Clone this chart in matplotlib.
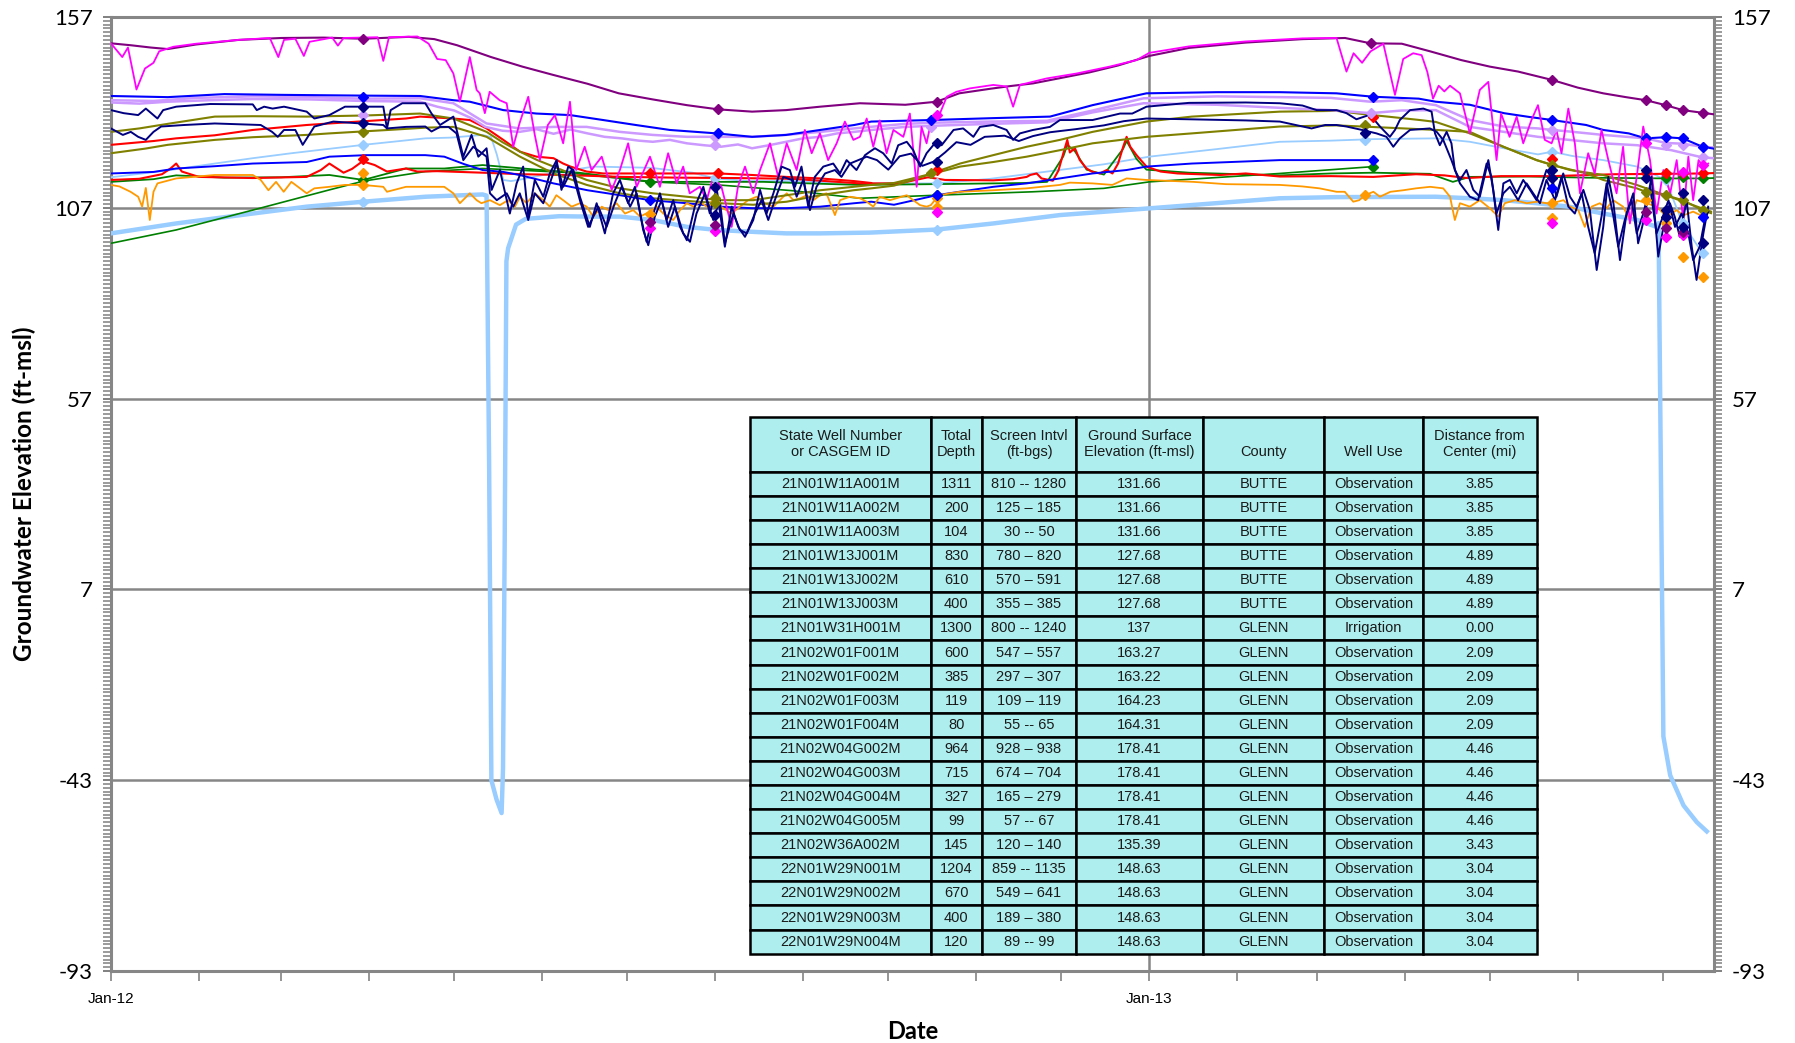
import numpy as np
import matplotlib
matplotlib.use("Agg")
import matplotlib.pyplot as plt
import matplotlib.dates as mdates
from matplotlib.ticker import FixedLocator, MultipleLocator
from matplotlib import font_manager

plt.rcParams["axes.unicode_minus"] = False

# ---- hydrograph data: (days since 1 Jan 2012, elevation ft-msl) ----
purple = [(0, 150.1), (7, 149.6), (14, 149.0), (20, 148.6), (30, 149.8), (45, 151.0), (60, 151.5),
          (75, 151.6), (89, 151.3), (105, 151.8), (114, 151.2), (122, 149.6), (134, 146.5), (145, 144.0),
          (156, 141.8), (168, 139.5), (179, 137.0), (191, 135.4), (203, 133.9), (214, 132.8), (226, 132.2),
          (238, 132.6), (250, 133.5), (264, 134.4), (280, 134.0), (291, 134.8), (299, 137.0), (310, 138.2),
          (317, 138.9), (325, 139.6), (334, 140.9), (345, 142.5), (355, 144.3), (366, 146.8), (380, 148.9),
          (400, 150.3), (420, 151.2), (435, 151.5), (444, 150.1), (455, 150.0), (465, 148.0), (476, 145.7),
          (486, 144.0), (496, 142.7), (508, 140.5), (517, 138.5), (526, 137.0), (534, 136.0), (541, 135.2),
          (548, 133.9), (554, 132.6), (561, 131.9), (565, 131.5)]

magenta = [(0, 150.1), (4, 146.5), (6, 149), (9, 138.0), (12, 143.5), (15, 145), (17, 148), (22, 149.2),
           (30, 150), (45, 151), (56, 151.5), (59, 146.5), (61, 151), (65, 151.3), (68, 146.8), (70, 150.5),
           (78, 151.6), (80, 149.5), (82, 151.5), (94, 151.7), (96, 145.5), (98, 151.7), (108, 151.9),
           (112, 150), (115, 146), (118, 145.7), (120.7, 142.2), (123, 134.8), (126.5, 146.5), (128.9, 137.9),
           (130, 137), (131.8, 131.8), (133.5, 137.4), (137, 135.2), (139.5, 134.4), (141.8, 123),
           (144, 129.1), (147.1, 136.1), (149.4, 126.1), (151.2, 119.5), (154, 128.7), (156.5, 131.3),
           (159.4, 123.9), (161.8, 134.8), (164, 116.9), (167, 123), (169.4, 116.9), (173, 120.4),
           (176.5, 111.7), (179.4, 116.9), (182.3, 123.9), (185.3, 112.5), (190, 120.4), (193.5, 112.5),
           (196.4, 121.3), (199.4, 113.4), (201.7, 117.8), (204, 110.8), (207.6, 112.5), (210, 109),
           (212.3, 115.1), (215.2, 112.5), (218.8, 102), (221, 112.5), (223.5, 117.8), (226.4, 110.8),
           (228.8, 116.9), (232.3, 123.9), (235.2, 115.1), (238.2, 123.9), (241.7, 116.9), (244.6, 127.4),
           (247, 121.3), (249.9, 126.5), (252.8, 119.5), (255.8, 123.9), (258.7, 129.6), (261.7, 124.8),
           (264, 125.6), (266.4, 130.4), (268.7, 123), (271, 129.9), (273.4, 121.3), (275.8, 127.4),
           (279.3, 125.6), (281.6, 131.7), (284, 112.5), (285.7, 128.2), (287.5, 123.9), (289.3, 130.4),
           (292.2, 131.7), (294.6, 136.1), (298, 137.4), (302.8, 138.3), (311, 139.2), (315.7, 138.8),
           (318, 133.5), (320.4, 139.2), (329.8, 140.9), (340.4, 142.2), (352, 144), (361.5, 145.7),
           (366, 147.6), (380, 149.3), (400, 150.6), (420, 151.4), (432, 151.5), (435.5, 142.7),
           (438, 147.5), (441, 145), (444, 148), (448.5, 150), (452.6, 136.6), (455.5, 146), (459, 147.5),
           (462, 147), (464, 142.6), (466, 135.6), (468, 139), (470, 137.5), (472, 139), (475.5, 137),
           (479, 126.5), (482.5, 137.9), (485.5, 140), (488.4, 119.5), (490, 131.7), (493, 125.6),
           (495.5, 130.9), (497.8, 123.9), (500.7, 130), (503, 133.9), (505.4, 124.8), (507.8, 123.9),
           (509.5, 127.4), (511.3, 121.3), (513.7, 133), (516, 123.9), (517.8, 110.8), (520.7, 121.3),
           (523, 116), (525.4, 127.4), (527.8, 119.5), (530.7, 110.8), (533, 123), (535.4, 102.9),
           (537.8, 115.1), (540.1, 128.3), (542.5, 119.5), (544.8, 105.5), (547.2, 116.9), (549.6, 110.8),
           (551.9, 119.5), (554.2, 103.8), (556, 120.4), (557.7, 109), (559.6, 119.5), (561.3, 117.8),
           (563, 118.6)]

lavender_1 = [(0, 135.2), (15, 135.0), (30, 135.8), (50, 136.2), (70, 136.0), (89, 135.6), (109, 135.7),
              (120.7, 134.4), (132.4, 129.1), (144, 127.8), (156, 128.2), (167.7, 128.2), (179.4, 126.9),
              (191, 126.1), (203, 125.6), (214, 125.6), (226, 125.6), (238, 126.1), (250, 126.9),
              (262, 127.8), (267.5, 128.2), (280, 129), (290, 129.3), (310, 129.6), (330, 129.8),
              (346, 132.5), (364, 135.7), (390, 136.2), (412, 136.0), (430, 135.8), (444, 134.8),
              (455, 135.2), (467, 133.9), (479, 130.0), (491, 128.3), (503, 127.8), (508, 127.4),
              (514, 127.0), (526, 126.1), (541, 125.2), (548, 124.0), (554, 123.8), (561, 123.0), (565, 122.8)]

lavender_2 = [(0, 134.6), (10, 134.3), (20, 134.8), (35, 135.2), (50, 135.5), (70, 135.4), (89, 135.0),
              (109, 134.8), (115, 133.5), (121, 132.5), (127, 130.5), (132, 128.2), (138, 127.2),
              (144, 126.9), (150, 127.6), (156, 126.4), (162, 127.5), (168, 126.5), (174, 125.6),
              (180, 125.2), (186, 124.6), (191, 124.3), (197, 124.8), (203, 123.9), (209, 123.4),
              (215, 123.0), (221, 123.6), (226, 122.6), (232, 123.4), (238, 124.3), (244, 125.2),
              (250, 125.6), (256, 126.5), (262, 126.9), (268, 127.4), (280, 128.2), (290, 128.5),
              (310, 129.0), (330, 129.4), (346, 132.0), (364, 134.4), (390, 134.0), (412, 133.2),
              (430, 132.6), (444, 131.8), (455, 132.5), (467, 132.6), (479, 128.2), (491, 126.9),
              (503, 125.6), (514, 124.8), (526, 123.9), (538, 123.4), (550, 122.1), (561, 120.2), (565, 120.0)]

blue_1 = [(0, 136.3), (20, 136.0), (40, 136.8), (60, 136.6), (89, 136.4), (109, 136.3), (120.7, 135.2),
          (126.5, 134.8), (138.3, 132.6), (150, 131.7), (161.8, 131.3), (173.5, 130.0), (185, 128.7),
          (197, 127.4), (213.5, 126.5), (226, 125.6), (238, 126.1), (250, 127.4), (262, 128.7),
          (268, 129.6), (289, 130.0), (311, 130.5), (331, 130.9), (346, 133.9), (365, 137.0), (390, 137.3),
          (412, 137.3), (432, 137.0), (445, 136.1), (461, 135.6), (467, 134.8), (479, 134.0), (491, 131.8),
          (500, 130.8), (508, 130.0), (520, 128.7), (526, 127.4), (535, 126.5), (541, 125.2), (548, 125.5),
          (554, 125.2), (561, 123.0), (565, 122.5)]

blue_2 = [(0, 116.0), (15, 116.4), (23, 117.3), (36.6, 117.9), (50, 118.6), (69, 119.0), (77, 120.4),
          (90, 120.8), (110.8, 120.8), (117.5, 120.4), (124.3, 118.5), (131, 116.9), (138.3, 116.4),
          (144, 115.6), (156, 113.4), (168, 111.6), (179.4, 110.3), (190, 109.0), (203, 108.2),
          (214.7, 107.3), (226, 106.9), (238, 106.9), (250, 107.3), (262, 108.2), (268, 108.6),
          (276, 107.8), (291, 110.3), (299, 111.2), (311, 112.5), (322.8, 113.4), (334.5, 114.7),
          (346, 116.0), (358, 116.9), (365, 117.8), (381, 118.6), (412, 119.5), (445, 119.5)]

navy_1 = [(0, 132.6), (4.5, 131.8), (9.6, 131.3), (12.3, 133.0), (16.4, 130.4), (18.4, 132.6), (23, 133.5),
          (35, 134.2), (50, 134.1), (51.4, 132.6), (54, 133.5), (57, 133.0), (61, 133.5), (69, 132.2),
          (71.7, 130.4), (77, 131.3), (82.5, 133.5), (96, 133.5), (97.3, 127.8), (98.6, 132.6),
          (102.7, 134.4), (110.8, 134.4), (113, 131.7), (116, 128.7), (120.7, 130.9), (124.2, 120.4),
          (127.1, 126.1), (129.5, 120.4), (132.4, 122.6), (134.2, 111.7), (137.1, 116.9), (140.6, 105.5),
          (143, 113.4), (145.3, 117.8), (147.1, 104.7), (149.4, 114.3), (152.4, 109.9), (154.7, 116.0),
          (157.1, 119.5), (158.8, 111.7), (161.2, 117.8), (163, 116.9), (165.3, 109.9), (168.8, 102.0),
          (171.2, 108.2), (174.1, 100.3), (177, 110.8), (179.4, 114.3), (182.3, 108.2), (184.7, 112.5),
          (187, 103.8), (188.8, 98.1), (191.2, 105.5), (193.5, 110.8), (195.9, 103.8), (198.2, 109.0),
          (200.6, 102.0), (203, 98.5), (205.8, 107.3), (208.8, 112.5), (211.1, 105.5), (213.5, 112.1),
          (216.4, 96.8), (218.8, 107.3), (221.1, 102.0), (223.5, 99.4), (226.4, 103.8), (228.8, 111.7),
          (231.1, 105.5), (233.5, 110.8), (236.4, 117.8), (239.3, 116.9), (241.1, 112.5), (243.4, 117.8),
          (245.8, 107.3), (248.1, 115.1), (251.1, 117.8), (254.6, 118.6), (257, 116.0), (259.3, 119.5),
          (262.8, 116.9), (265.8, 120.8), (267.5, 121.7), (269.3, 122.6), (272.2, 121.3), (275.2, 118.6),
          (277.5, 123.4), (280.5, 124.3), (282.8, 122.1), (285.2, 117.8), (287.5, 121.3), (290.4, 123.9),
          (292.8, 123.4), (295.1, 125.6), (297, 127.4), (300.4, 127.8), (304, 125.6), (306.3, 128.2),
          (311, 128.7), (315.7, 127.4), (318, 124.8), (320.4, 126.5), (325, 127.4), (331, 128.2),
          (334.5, 130.0), (346, 130.0), (355.7, 131.7), (360, 131.7), (365, 133.5), (380, 134.5),
          (400, 134.6), (412, 134.4), (420, 133.8), (425, 132.6), (432, 132.6), (435.5, 131.8),
          (439, 130.2), (443.8, 131.4), (447.3, 128.3), (450.8, 125.6), (452.6, 127.4), (454.3, 130.0),
          (457.9, 132.6), (462.6, 133.0), (465.5, 132.2), (466.7, 126.5), (468.4, 123.4), (470.8, 126.9),
          (472.5, 123.9), (473.7, 116.9), (475.5, 114.3), (477.8, 116.9), (480.2, 111.7), (482.5, 109.9),
          (485.5, 119.5), (487.2, 111.7), (489, 101.2), (490.8, 113.4), (493.1, 114.3), (495.5, 110.8),
          (497.8, 114.3), (500.2, 111.7), (502.5, 109.0), (506, 116.9), (508, 114.7), (509.5, 109.9),
          (511.9, 116.0), (514.3, 109.9), (516.6, 107.3), (519, 111.7), (521.3, 106.4), (523.7, 90.7),
          (526, 102.0), (527.8, 115.1), (529.6, 108.2), (531.9, 93.3), (534.2, 105.5), (536.6, 110.8),
          (538.3, 97.7), (540.6, 104.7), (543, 115.1), (545.4, 94.2), (547.2, 102.0), (549.5, 108.2),
          (551.2, 104.7), (553, 99.4), (555.4, 109.0), (557.2, 96.8), (558.9, 88.1), (561.3, 100.3),
          (563, 107.3)]

navy_2 = [(0, 127.8), (4.2, 126.1), (7, 126.9), (9.6, 125.6), (12.3, 124.8), (15, 126.9), (17.7, 128.3),
          (25.8, 128.7), (36.6, 129.1), (52.8, 128.7), (56.8, 126.9), (58.8, 125.6), (61, 127.4),
          (65, 127.4), (67.6, 123.5), (71.7, 128.3), (78.4, 129.6), (88, 129.1), (96, 128.7), (97.3, 127.8),
          (104, 128.2), (110.8, 128.3), (113, 127.0), (116, 128.2), (119, 128.2), (121.8, 126.5),
          (124.2, 119.5), (127.7, 123.0), (132.4, 120.4), (133.6, 110.8), (136, 109.0), (139.5, 110.8),
          (141.8, 107.3), (144.1, 110.8), (147.1, 103.8), (149.4, 110.8), (152.4, 108.2), (155.3, 114.7),
          (157.1, 118.6), (159.4, 112.5), (162.4, 116.9), (165.3, 109.0), (168.2, 102.0), (171.8, 107.3),
          (174.7, 102.0), (177.6, 108.2), (180, 112.5), (183, 107.3), (185.3, 110.8), (187.6, 101.2),
          (189.4, 97.2), (191.7, 104.7), (194.1, 109.0), (196.4, 102.0), (198.8, 107.3), (201.7, 100.3),
          (204.1, 98.1), (206.4, 105.5), (209.4, 110.8), (212.3, 103.8), (214.6, 109.0), (216.4, 97.7),
          (219.4, 105.5), (221.7, 101.2), (224.1, 100.3), (227, 105.5), (229.3, 109.0), (231.7, 103.8),
          (234, 109.0), (237, 115.1), (240, 114.3), (241.7, 109.9), (244, 114.3), (246.4, 106.4),
          (248.7, 112.5), (251.7, 116.0), (255.2, 116.9), (257.5, 115.1), (260.5, 118.6), (263.4, 119.5),
          (266.4, 120.4), (270, 119.5), (274, 117.0), (278, 120.5), (282, 121.2), (286, 118.0), (290, 119.1),
          (294, 121.5), (298, 124.2), (303, 123.5), (308, 125.6), (315, 125.9), (320, 124.5), (325, 125.8),
          (331, 126.8), (340, 127.6), (350, 128.6), (357, 129.7), (365, 130.4), (380, 130.2), (400, 129.9),
          (412, 129.6), (423.2, 127.8), (428, 128.7), (432, 128.7), (435.5, 128.3), (441, 127.4),
          (446.1, 126.5), (449.6, 125.6), (452, 123.0), (454.3, 125.2), (457.9, 127.4), (464.9, 127.8),
          (467.3, 126.9), (469.6, 124.8), (472.5, 119.5), (475.5, 113.4), (479, 109.9), (481.9, 109.0),
          (484.9, 118.6), (486.6, 115.1), (488.4, 105.5), (490.8, 110.8), (493.1, 112.5), (496, 109.0),
          (499, 113.4), (501.3, 110.8), (503.7, 108.2), (506, 114.3), (509, 109.0), (511.3, 115.1),
          (513.7, 107.3), (516, 105.5), (518.4, 110.8), (520.7, 102.0), (523, 95.1), (525.4, 104.7),
          (527.2, 113.4), (529.6, 104.7), (531.3, 96.8), (533.6, 103.8), (536, 109.0), (537.8, 100.3),
          (540.1, 105.5), (542.5, 112.5), (544.8, 100.3), (546.6, 103.8), (549, 109.0), (551.3, 102.0),
          (553.6, 105.5), (556, 100.3), (557.7, 93.3), (560, 96.8), (561.8, 103.8), (563, 106.0)]

olive_1 = [(0, 126.9), (10, 127.8), (20, 129.0), (36.6, 130.9), (50, 131.0), (69, 130.9), (90, 131.2),
           (109, 131.7), (120.7, 130.4), (132.4, 126.9), (138, 124.2), (144.2, 121.7), (150, 119.6),
           (156, 117.8), (162, 116.0), (167.7, 114.3), (173.5, 113.2), (179.4, 112.1), (191, 110.8),
           (203, 109.9), (214.7, 109.0), (226.4, 109.0), (238.2, 110.3), (250, 111.6), (261.7, 112.5),
           (268, 113.0), (276, 113.5), (287.5, 115.6), (299.3, 118.6), (311, 120.8), (322.8, 123.0),
           (334.5, 124.8), (346, 126.9), (365, 129.6), (381, 130.9), (412, 132.2), (432, 132.4), (442, 131.5),
           (450, 130.9), (461.4, 130.0), (467, 129.5), (479, 126.5), (490.8, 123.0), (502.5, 119.5),
           (508, 118.2), (520, 116.0), (526, 114.3), (537.8, 112.1), (541, 111.2), (548, 110.3),
           (554, 109.0), (561, 106.4), (564, 105.6)]

olive_2 = [(0, 121.3), (12, 122.5), (20, 123.5), (36.6, 124.8), (50, 125.5), (69, 126.1), (77, 126.5),
           (100, 127.5), (110.8, 128.0), (120.7, 128.2), (132.4, 125.6), (144.2, 120.4), (156, 116.0),
           (167.7, 113.0), (179.4, 110.8), (191, 109.5), (203, 108.8), (214.7, 108.2), (226.4, 107.8),
           (238.2, 108.6), (250, 110.3), (261.7, 111.6), (268, 112.1), (276, 112.8), (287.5, 115.5),
           (299.3, 117.8), (311, 119.0), (322.8, 120.4), (334.5, 122.1), (346, 123.9), (365, 125.6),
           (381, 126.5), (412, 128.3), (432, 128.6), (450, 128.0), (467.3, 127.4), (479, 126.9),
           (490.8, 123.0), (502.5, 119.5), (514.3, 116.9), (526, 115.6), (537.8, 113.0), (549.5, 109.9),
           (561, 106.8), (564, 106.0)]

red_1 = [(0, 123.5), (15, 124.5), (23, 125.2), (36.6, 126.0), (50, 127.4), (69, 128.7), (77, 129.1),
         (104, 130.4), (109, 130.9), (120.7, 130.4), (126.5, 130.0), (132.4, 127.8), (138.3, 124.8),
         (144.2, 121.7), (150, 120.4), (156, 120.0), (159.4, 118.6), (162, 117.8), (167.7, 116.5),
         (173.5, 116.0), (190, 116.0), (203, 116.0), (214, 116.0), (226, 115.6), (238, 115.1),
         (250, 114.7), (262, 114.0), (268, 113.5)]

red_2 = [(0, 114.3), (10, 114.6), (18, 115.8), (21, 117.3), (23, 118.6), (25, 116.5), (31, 115.1),
         (50, 114.8), (69, 115.1), (74, 116.9), (77, 118.6), (82, 116.2), (85, 117.2), (88.7, 119.2),
         (93, 118.2), (97.3, 116.5), (104, 117.3), (108, 116.5), (115, 116.6), (131, 116.2), (145, 115.8),
         (160, 115.6), (180, 115.1), (200, 114.9), (220, 114.8), (240, 114.6), (264, 113.4), (278, 113.4),
         (288, 115.0), (294, 114.3), (311, 114.2), (318, 114.5), (322.8, 115.1), (324, 115.6),
         (326.3, 116.0), (328, 114.7), (332, 114.1), (334, 116.8), (335.7, 121.3), (337.1, 124.8),
         (338, 121.5), (339.8, 122.6), (341.5, 119.5), (343.9, 117.3), (346, 116.4), (348.6, 116.0),
         (351, 116.9), (353, 116.0), (355, 118.6), (356.8, 123.0), (358, 125.6), (359.3, 123.0),
         (361.5, 120.8), (365, 117.8), (370, 116.5), (376, 116.0), (391, 115.6), (400, 116.0),
         (412, 115.2), (430, 115.3), (445, 115.1), (460, 115.8), (470, 115.5), (478, 114.8), (490, 115.3),
         (508, 115.3), (530, 115.8), (548, 115.9), (561, 116.0), (565, 116.1)]

green_1 = [(0, 113.8), (15, 114.5), (23, 115.5), (40, 114.9), (60, 115.0), (77, 115.6), (89, 114.3),
           (104, 117.3), (117.5, 117.3), (131, 118.2), (150, 117.0), (165, 116.2), (180, 114.8),
           (191, 113.8), (210, 113.8), (230, 113.8), (250, 113.3), (264, 113.0), (290, 113.2),
           (322, 113.5), (330, 113.8), (335.7, 120.5), (337.1, 123.5), (339.8, 121.8), (343.9, 117.0),
           (350, 115.7), (356.8, 122.5), (358, 124.5), (361.5, 119.8), (365, 117.0), (380, 116.2),
           (412, 115.5), (430, 116.0), (445, 116.2), (465, 115.9), (473, 113.8), (479, 115.1),
           (500, 115.2), (520, 114.9), (548, 114.7), (561, 114.7), (565, 114.8)]

green_2 = [(0, 97.7), (23, 101.2), (50, 106.4), (77, 111.7), (89, 114.0), (110.8, 116.5), (131, 117.3),
           (160, 116.3), (190, 113.8), (214, 113.0), (240, 111.5), (264, 109.5), (291, 110.3),
           (325, 111.2), (350, 112.1), (366, 113.8), (412, 116.0), (445, 117.8)]

orange = [(0, 113.0), (3, 112.6), (6.9, 111.2), (9.6, 109.9), (11, 107.3), (12.3, 112.2), (13.7, 103.8),
          (15, 111.2), (16.4, 113.4), (23, 114.7), (36.6, 115.6), (50, 115.6), (52.8, 114.3),
          (55.5, 111.6), (58.2, 113.8), (60.9, 111.2), (63.6, 113.8), (69, 110.8), (71.7, 112.1),
          (77, 112.5), (82.5, 113.0), (88.7, 113.0), (96, 112.5), (97.3, 111.2), (104, 112.5),
          (117.5, 112.5), (120.7, 110.8), (123, 108.2), (126.5, 110.8), (128.9, 109.0), (130.6, 108.2),
          (133.6, 109.0), (137.1, 107.7), (140, 109.0), (142.4, 107.3), (144.2, 109.9), (146.5, 108.2),
          (149.4, 110.8), (152.4, 109.0), (154.7, 107.3), (157, 110.3), (159.4, 109.0), (162.4, 107.3),
          (165.3, 108.2), (167.7, 107.3), (170, 104.7), (173, 107.3), (175.3, 106.4), (178.2, 108.2),
          (181.2, 105.5), (184.1, 106.4), (186.5, 104.7), (190, 106.0), (192.3, 107.3), (194.7, 105.5),
          (198.2, 103.8), (200.6, 106.4), (203, 108.2), (205.3, 107.3), (207.6, 108.6), (210, 107.3),
          (212.9, 108.2), (215.8, 106.9), (218.8, 105.5), (221.7, 107.3), (224.6, 109.0), (227.6, 109.9),
          (230.5, 108.2), (233.5, 107.3), (235.8, 109.0), (238.2, 110.8), (240.6, 109.0), (243, 109.5),
          (245.3, 110.3), (247.6, 109.0), (250, 110.3), (252.2, 110.8), (255.2, 105.1), (257, 109.0),
          (260.5, 109.9), (264, 109.5), (266.4, 108.6), (268.7, 107.3), (271, 109.9), (274.6, 109.0),
          (276.9, 109.5), (280.5, 110.3), (282.8, 109.0), (285.2, 107.7), (287.5, 107.3), (289, 107.7),
          (290.4, 109.0), (292.2, 110.3), (295.7, 110.8), (299.3, 111.2), (311, 111.6), (322.8, 112.1),
          (334.5, 113.0), (338, 113.6), (346, 113.4), (353, 113.0), (358, 114.7), (365, 114.3),
          (381.5, 113.8), (393, 113.2), (412, 113.0), (420, 112.6), (426, 112.1), (432, 111.2),
          (434.9, 111.2), (437.9, 108.6), (440, 109.0), (442, 110.3), (445, 111.2), (447.3, 109.9),
          (451, 111.2), (455.5, 111.6), (460, 112.1), (465, 112.5), (469.6, 112.1), (472, 109.9),
          (473.7, 103.8), (475.5, 108.2), (479, 107.3), (482.5, 109.0), (486, 106.9), (489, 104.7),
          (491.3, 108.2), (494.9, 109.0), (499, 108.2), (502.5, 108.6), (506, 108.2), (508, 108.2),
          (512, 109.0), (514.3, 107.3), (517.2, 106.4), (519.5, 102.0), (521.9, 107.3), (524.8, 108.2),
          (527.2, 106.9), (529.5, 109.0), (533, 107.3), (535.4, 103.8), (537.8, 109.0), (541.3, 108.2),
          (544.8, 107.3), (548.3, 104.7), (551.9, 106.4), (554.2, 105.0), (557.7, 106.0), (561.3, 104.7)]

lightblue_1 = [(0, 115.0), (20, 116.8), (36.6, 118.6), (50, 120.0), (63.6, 121.3), (89, 123.5),
               (110.8, 125.2), (120, 125.4), (131, 126.1), (134, 125.5), (136, 121.0), (138.3, 114.3),
               (141, 114.0), (145, 114.5), (155, 116.0), (170, 117.8), (190, 117.5), (205, 116.2),
               (213, 114.7), (225, 114.0), (240, 114.0), (264, 113.4), (291, 113.4), (310, 114.6),
               (330, 116.5), (350, 118.4), (366, 120.4), (390, 122.4), (412, 124.3), (430, 124.6),
               (445, 125.0), (467, 125.2), (479, 124.3), (491, 122.6), (503, 121.0), (508, 121.7),
               (515, 120.6), (526, 119.5), (538, 117.8), (548, 114.3), (554, 102.9), (561, 95.1)]

lightblue_2 = [(0, 100.3), (23, 102.9), (50, 105.5), (69, 107.3), (89, 108.6), (110.8, 109.9), (131, 110.5),
               (132.4, 110.2), (133.3, 40.0), (134.1, -43.0), (135.9, -48.0), (137.7, -51.6), (138.2, -40.0),
               (138.8, 20.0), (139.4, 93.0), (140, 96.4), (142.8, 102.6), (146.2, 104.1), (158, 104.8),
               (168, 104.7), (179.4, 104.7), (191, 103.8), (203, 102.0), (213.5, 101.2), (226.4, 100.7),
               (238, 100.3), (250, 100.3), (267.5, 100.5), (291, 101.3), (311, 102.9), (334.5, 105.1),
               (365, 106.8), (412, 109.5), (432, 109.8), (467, 109.9), (479, 109.5), (491, 109.0),
               (502.5, 108.2), (514, 107.3), (526, 105.5), (538, 103.8), (544.8, 102.0), (545.5, 103.0),
               (546.3, 40.0), (547.2, -31.5), (549.6, -41.7), (554.3, -49.6), (559, -54.0), (562.5, -56.4)]

# ---- manual (tape) measurements ----
purple_manual = [(89, 151.3), (214, 132.8), (291, 134.8), (444, 150.1), (508, 140.5), (541, 135.2),
                 (548, 133.9), (554, 132.6), (561, 131.9), (190, 103.4), (213, 102.5), (541, 106.0),
                 (548, 101.6), (554, 100.7)]
magenta_manual = [(190, 101.6), (213, 101.0), (291, 131.3), (291, 106.0), (508, 102.9), (541, 123.9),
                  (541, 103.8), (548, 99.4), (554, 99.9), (554, 116.5), (561, 118.2)]
lavender_manual = [(89, 131.3), (213, 125.6), (213, 123.4), (289, 128.2), (444, 131.8), (508, 127.4),
                   (541, 125.2), (548, 123.4), (554, 123.4), (561, 123.0), (561, 120.2)]
blue_manual = [(89, 136.1), (190, 109.0), (214, 126.5), (289, 130.0), (291, 110.3), (445, 136.1),
               (445, 119.5), (508, 130.0), (508, 112.1), (541, 125.2), (548, 125.5), (554, 125.2),
               (561, 123.0), (561, 104.7)]
navy_manual = [(89, 133.5), (89, 129.1), (213, 112.5), (213, 105.1), (291, 124.0), (291, 119.1),
               (442, 126.5), (508, 116.9), (508, 114.7), (541, 116.9), (541, 114.7), (548, 106.4),
               (548, 104.7), (554, 110.8), (554, 102.0), (561, 109.0), (561, 97.7)]
olive_manual = [(89, 126.9), (213, 109.5), (213, 108.2), (289, 116.0), (442, 128.7), (508, 118.2),
                (541, 111.2), (548, 110.3), (554, 109.0), (561, 106.4)]
red_manual = [(89, 119.9), (190, 116.0), (214, 116.0), (291, 116.9), (445, 130.9), (508, 119.9),
              (541, 116.0), (548, 116.0), (554, 116.0), (561, 116.0)]
green_manual = [(89, 114.3), (190, 113.8), (291, 110.3), (445, 117.8), (548, 114.7), (554, 115.1),
                (561, 114.7)]
orange_manual = [(89, 116.0), (89, 113.0), (190, 105.5), (213, 108.6), (291, 109.5), (291, 107.3),
                 (442, 110.3), (508, 108.2), (508, 104.2), (541, 109.0), (548, 102.9), (554, 94.2),
                 (561, 88.9)]
lightblue_manual = [(89, 123.5), (89, 108.6), (213, 114.7), (213, 101.2), (291, 113.4), (291, 101.3),
                    (442, 124.8), (508, 121.7), (548, 114.3), (554, 102.9), (561, 95.1)]

# ---- well table ----
col_labels = ["State Well Number\nor CASGEM ID", "Total\nDepth", "Screen Intvl\n(ft-bgs)",
              "Ground Surface\nElevation (ft-msl)", "\nCounty", "\nWell Use", "Distance from\nCenter (mi)"]
well_ids = ["21N01W11A001M", "21N01W11A002M", "21N01W11A003M", "21N01W13J001M", "21N01W13J002M",
            "21N01W13J003M", "21N01W31H001M", "21N02W01F001M", "21N02W01F002M", "21N02W01F003M",
            "21N02W01F004M", "21N02W04G002M", "21N02W04G003M", "21N02W04G004M", "21N02W04G005M",
            "21N02W36A002M", "22N01W29N001M", "22N01W29N002M", "22N01W29N003M", "22N01W29N004M"]
total_depth = ["1311", "200", "104", "830", "610", "400", "1300", "600", "385", "119", "80", "964", "715",
               "327", "99", "145", "1204", "670", "400", "120"]
screen_intvl = ["810 -- 1280", "125 \u2013 185", "30 -- 50", "780 \u2013 820", "570 \u2013 591",
                "355 \u2013 385", "800 -- 1240", "547 \u2013 557", "297 \u2013 307", "109 \u2013 119",
                "55 -- 65", "928 \u2013 938", "674 \u2013 704", "165 \u2013 279", "57 -- 67",
                "120 \u2013 140", "859 -- 1135", "549 \u2013 641", "189 \u2013 380", "89 -- 99"]
gse = ["131.66", "131.66", "131.66", "127.68", "127.68", "127.68", "137", "163.27", "163.22", "164.23",
       "164.31", "178.41", "178.41", "178.41", "178.41", "135.39", "148.63", "148.63", "148.63", "148.63"]
county = ["BUTTE"] * 6 + ["GLENN"] * 14
well_use = ["Observation"] * 6 + ["Irrigation"] + ["Observation"] * 13
distance = ["3.85", "3.85", "3.85", "4.89", "4.89", "4.89", "0.00", "2.09", "2.09", "2.09", "2.09",
            "4.46", "4.46", "4.46", "4.46", "3.43", "3.04", "3.04", "3.04", "3.04"]

y_ticks = [-93, -43, 7, 57, 107, 157]

installed = {f.name for f in font_manager.fontManager.ttflist}
narrow = "Liberation Sans Narrow" if "Liberation Sans Narrow" in installed else "Liberation Sans"
table_fs = 12.5 if narrow.endswith("Narrow") else 10.5

t0 = mdates.date2num(np.datetime64("2012-01-01"))


def xy(pairs):
    arr = np.array(pairs, dtype=float)
    return t0 + arr[:, 0], arr[:, 1]


fig = plt.figure(figsize=(17.95, 10.43), dpi=100)
ax = fig.add_axes([0.0618, 0.0690, 0.8930, 0.9147])

lines = [
    (lightblue_2, "#99CCFF", 3.2),
    (lightblue_1, "#99CCFF", 1.3),
    (green_2, "#008000", 1.2),
    (green_1, "#008000", 1.3),
    (red_2, "#FF0000", 1.5),
    (red_1, "#FF0000", 1.5),
    (blue_2, "#0000FF", 1.4),
    (orange, "#FF9900", 1.3),
    (olive_2, "#808000", 1.5),
    (olive_1, "#808000", 1.5),
    (lavender_2, "#CC99FF", 1.8),
    (lavender_1, "#CC99FF", 1.8),
    (blue_1, "#0000FF", 1.5),
    (purple, "#800080", 1.5),
    (magenta, "#FF00FF", 1.3),
    (navy_2, "#000080", 1.4),
    (navy_1, "#000080", 1.4),
]
for pairs, color, lw in lines:
    xs, ys = xy(pairs)
    ax.plot(xs, ys, color=color, lw=lw, zorder=3)

manual = [
    (lightblue_manual, "#99CCFF"), (green_manual, "#008000"), (red_manual, "#FF0000"),
    (orange_manual, "#FF9900"), (olive_manual, "#808000"), (lavender_manual, "#CC99FF"),
    (blue_manual, "#0000FF"), (magenta_manual, "#FF00FF"), (purple_manual, "#800080"),
    (navy_manual, "#000080"),
]
for pairs, color in manual:
    xs, ys = xy(pairs)
    ax.plot(xs, ys, ls="none", marker="D", ms=5.2, color=color, mec=color, zorder=4)

# axes and grid
ax.set_xlim(t0, t0 + 565)
ax.set_ylim(-93, 157)
ax.yaxis.set_major_locator(FixedLocator(y_ticks))
ax.yaxis.set_minor_locator(MultipleLocator(1))
ax.xaxis.set_major_locator(mdates.YearLocator())
ax.xaxis.set_major_formatter(mdates.DateFormatter("%b-%y"))
ax.xaxis.set_minor_locator(mdates.MonthLocator())
ax.set_axisbelow(True)
ax.grid(True, which="major", color="#868686", lw=1.8)

for s in ax.spines.values():
    s.set_color("#868686")
    s.set_linewidth(2.2)

ax.tick_params(axis="y", which="both", left=True, right=True, labelleft=True, labelright=True,
               direction="out", color="#808080")
ax.tick_params(axis="y", which="major", length=6, width=1.4, labelsize=16, pad=7)
ax.tick_params(axis="y", which="minor", length=6, width=1.1)
ax.tick_params(axis="x", which="both", direction="out", color="#8c8c8c", length=7, width=1.3)
ax.tick_params(axis="x", which="major", labelsize=11, pad=8)
for t in ax.yaxis.get_major_ticks():
    t.label1.set_family("Lato")
    t.label2.set_family("Lato")
for t in ax.xaxis.get_major_ticks():
    t.label1.set_family("Liberation Sans")

ax.set_ylabel("Groundwater Elevation (ft-msl)", fontsize=17.5, fontweight="bold", family="Lato")
ax.yaxis.set_label_coords(-0.047, 0.5)
ax.set_xlabel("Date", fontsize=17, fontweight="bold", family="Lato")
ax.xaxis.set_label_coords(0.5, -0.051)

# well information table
rows = [list(r) for r in zip(well_ids, total_depth, screen_intvl, gse, county, well_use, distance)]
tbl = ax.table(cellText=rows, colLabels=col_labels, cellLoc="center",
               bbox=[0.3986, 0.0182, 0.491, 0.5628], zorder=10)
tbl.auto_set_font_size(False)
col_w = [158, 45, 82, 111, 106, 86, 100]
for (r, c), cell in tbl.get_celld().items():
    cell.set_facecolor("#AFEEEE")
    cell.set_edgecolor("black")
    cell.set_linewidth(1.8)
    cell.set_width(col_w[c])
    cell.set_height(48 if r == 0 else 21)
    cell.PAD = 0.02
    txt = cell.get_text()
    txt.set_fontsize(table_fs)
    txt.set_family(narrow)
    txt.set_color("#1a1a1a")

fig.savefig("out.png", dpi=100)
